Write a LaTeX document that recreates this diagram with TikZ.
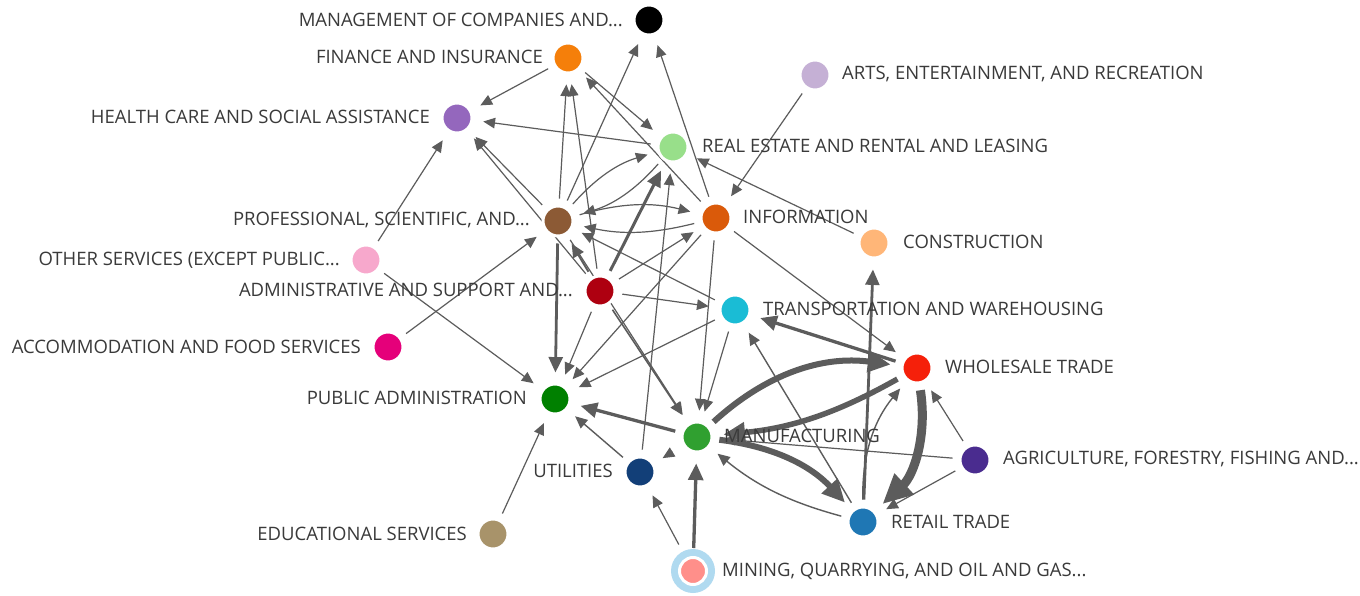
\documentclass[tikz,border=0pt]{standalone}
\usepackage{fontspec}
\setmainfont{Open Sans}
\usetikzlibrary{arrows.meta}
\pgfdeclarelayer{bg}
\pgfdeclarelayer{edges}
\pgfsetlayers{bg,edges,main}

% industry colours
\definecolor{cMgmt}{HTML}{000000}
\definecolor{cFin}{HTML}{F57F0A}
\definecolor{cArts}{HTML}{C5B0D5}
\definecolor{cHealth}{HTML}{9467BD}
\definecolor{cRe}{HTML}{98DF8A}
\definecolor{cProf}{HTML}{8C5A35}
\definecolor{cInfo}{HTML}{DA5A0A}
\definecolor{cCons}{HTML}{FFB678}
\definecolor{cOther}{HTML}{F7A8CC}
\definecolor{cAdmin}{HTML}{AE0010}
\definecolor{cTrans}{HTML}{1ABCD5}
\definecolor{cAccom}{HTML}{E5007A}
\definecolor{cWhole}{HTML}{F5200A}
\definecolor{cPub}{HTML}{008000}
\definecolor{cManuf}{HTML}{30A030}
\definecolor{cUtil}{HTML}{123F78}
\definecolor{cAgri}{HTML}{4A2C8F}
\definecolor{cEduc}{HTML}{A8936A}
\definecolor{cRetail}{HTML}{1F77B4}
\definecolor{cMining}{HTML}{FF8F8A}
\definecolor{ringblue}{HTML}{B0DAF0}
\definecolor{labgray}{HTML}{3A3A3A}
\definecolor{edgegray}{HTML}{5C5C5C}

\tikzset{
  ind/.style={circle, minimum size=30pt, inner sep=0pt, draw=white, line width=3pt},
  lab/.style={font=\fontsize{18.5}{22}\selectfont, text=labgray, inner sep=0pt},
  flow/.style={draw=edgegray, line width=1.2pt,
    -{Triangle[length=9pt 2.3, width=8pt 2.1]},
    shorten >=10pt, shorten <=6pt},
}

\begin{document}
\begin{tikzpicture}[x=1pt,y=-1pt]
\begin{pgfonlayer}{bg}
\fill[white] (0,0) rectangle (1360,596);
\end{pgfonlayer}
\useasboundingbox (0,0) rectangle (1360,596);

% ring around the highlighted node
\node[circle, minimum size=44pt, inner sep=0pt, fill=ringblue] (mining-ring) at (693,571) {};

% industries
\node[ind, fill=cMgmt]   (mgmt)   at (649,20)  {};
\node[ind, fill=cFin]    (fin)    at (568,58)  {};
\node[ind, fill=cArts]   (arts)   at (815,75)  {};
\node[ind, fill=cHealth] (health) at (457,118) {};
\node[ind, fill=cRe]     (re)     at (673,147) {};
\node[ind, fill=cProf]   (prof)   at (558,221) {};
\node[ind, fill=cInfo]   (info)   at (716,218) {};
\node[ind, fill=cCons]   (cons)   at (874,243) {};
\node[ind, fill=cOther]  (other)  at (366,260) {};
\node[ind, fill=cAdmin]  (admin)  at (600,291) {};
\node[ind, fill=cTrans]  (trans)  at (735,310) {};
\node[ind, fill=cAccom]  (accom)  at (388,347) {};
\node[ind, fill=cWhole]  (whole)  at (917,368) {};
\node[ind, fill=cPub]    (pub)    at (555,399) {};
\node[ind, fill=cManuf]  (manuf)  at (697,437) {};
\node[ind, fill=cUtil]   (util)   at (640,472) {};
\node[ind, fill=cAgri]   (agri)   at (975,460) {};
\node[ind, fill=cEduc]   (educ)   at (493,534) {};
\node[ind, fill=cRetail] (retail) at (863,522) {};
\node[ind, fill=cMining, minimum size=27pt] (mining) at (693,571) {};

% labels
\node[lab, anchor=east] (mgmt-l)   at (623,20)  {MANAGEMENT OF COMPANIES AND...};
\node[lab, anchor=east] (fin-l)    at (543,57)  {FINANCE AND INSURANCE};
\node[lab, anchor=west] (arts-l)   at (842,74)  {ARTS, ENTERTAINMENT, AND RECREATION};
\node[lab, anchor=east] (health-l) at (430,117) {HEALTH CARE AND SOCIAL ASSISTANCE};
\node[lab, anchor=west] (re-l)     at (702,146) {REAL ESTATE AND RENTAL AND LEASING};
\node[lab, anchor=east] (prof-l)   at (530,220) {PROFESSIONAL, SCIENTIFIC, AND...};
\node[lab, anchor=west] (info-l)   at (743,217) {INFORMATION};
\node[lab, anchor=west] (cons-l)   at (903,242) {CONSTRUCTION};
\node[lab, anchor=east] (other-l)  at (340,260) {OTHER SERVICES (EXCEPT PUBLIC...};
\node[lab, anchor=east] (admin-l)  at (573,290) {ADMINISTRATIVE AND SUPPORT AND...};
\node[lab, anchor=west] (trans-l)  at (763,309) {TRANSPORTATION AND WAREHOUSING};
\node[lab, anchor=east] (accom-l)  at (361,347) {ACCOMMODATION AND FOOD SERVICES};
\node[lab, anchor=west] (whole-l)  at (945,367) {WHOLESALE TRADE};
\node[lab, anchor=east] (pub-l)    at (527,398) {PUBLIC ADMINISTRATION};
\node[lab, anchor=west] (manuf-l)  at (724,436) {MANUFACTURING};
\node[lab, anchor=east] (util-l)   at (613,471) {UTILITIES};
\node[lab, anchor=west] (agri-l)   at (1003,459) {AGRICULTURE, FORESTRY, FISHING AND...};
\node[lab, anchor=east] (educ-l)   at (467,534) {EDUCATIONAL SERVICES};
\node[lab, anchor=west] (retail-l) at (891,522) {RETAIL TRADE};
\node[lab, anchor=west] (mining-l) at (722,571) {MINING, QUARRYING, AND OIL AND GAS...};

% flows between industries
\begin{pgfonlayer}{edges}
\draw[flow] (prof) -- (mgmt);
\draw[flow] (info) -- (mgmt);
\draw[flow] (prof) -- (fin);
\draw[flow] (admin) -- (fin);
\draw[flow] (fin) -- (re);
\draw[flow] (info) -- (fin);
\draw[flow] (fin) -- (health);
\draw[flow] (re) -- (health);
\draw[flow] (prof) -- (health);
\draw[flow] (admin) -- (health);
\draw[flow] (other) -- (health);
\draw[flow] (other) -- (pub);
\draw[flow] (accom) -- (prof);
\draw[flow, line width=2.8pt] (prof) -- (pub);
\draw[flow, line width=1.9pt] (admin) -- (prof);
\draw[flow, line width=3pt] (admin) -- (re);
\draw[flow] (admin) -- (info);
\draw[flow] (admin) -- (trans);
\draw[flow, line width=1.6pt] (admin) -- (manuf);
\draw[flow] (prof) -- (manuf);
\draw[flow] (admin) -- (pub);
\draw[flow] (prof) to[bend left=15] (info);
\draw[flow] (info) to[bend left=13] (prof);
\draw[flow] (prof) to[bend left=16] (re);
\draw[flow] (re) to[bend left=16] (prof);
\draw[flow] (trans) -- (prof);
\draw[flow] (util) -- (re);
\draw[flow] (cons) -- (re);
\draw[flow] (arts) -- (info);
\draw[flow] (info) -- (whole);
\draw[flow] (info) -- (pub);
\draw[flow] (info) -- (manuf);
\draw[flow] (trans) -- (pub);
\draw[flow] (trans) -- (manuf);
\draw[flow, line width=3.3pt] (manuf) -- (pub);
\draw[flow, line width=1.4pt] (util) -- (pub);
\draw[flow] (educ) -- (pub);
\draw[flow, shorten <=15pt] (mining) -- (util);
\draw[flow, line width=3.3pt, shorten <=8pt] (mining) -- (manuf);
\draw[flow, shorten <=12pt] (manuf) -- (util);
\draw[flow, line width=6pt] (manuf) to[bend left=25] (whole);
\draw[flow, line width=5.5pt] (whole) to[bend left=12] (manuf);
\draw[flow, line width=6pt] (manuf) to[bend left=20] (retail);
\draw[flow, line width=1.4pt] (retail) to[bend left=12] (manuf);
\draw[flow, line width=9pt] (whole) to[bend left=28] (retail);
\draw[flow, line width=1.4pt] (retail) to[bend left=20] (whole);
\draw[flow, line width=1.4pt] (retail) -- (trans);
\draw[flow, line width=3.3pt] (whole) -- (trans);
\draw[flow] (agri) -- (whole);
\draw[flow] (agri) -- (retail);
\draw[flow] (agri) -- (manuf);
\draw[flow, line width=2.8pt] (retail) -- (cons);
\end{pgfonlayer}
\end{tikzpicture}
\end{document}
